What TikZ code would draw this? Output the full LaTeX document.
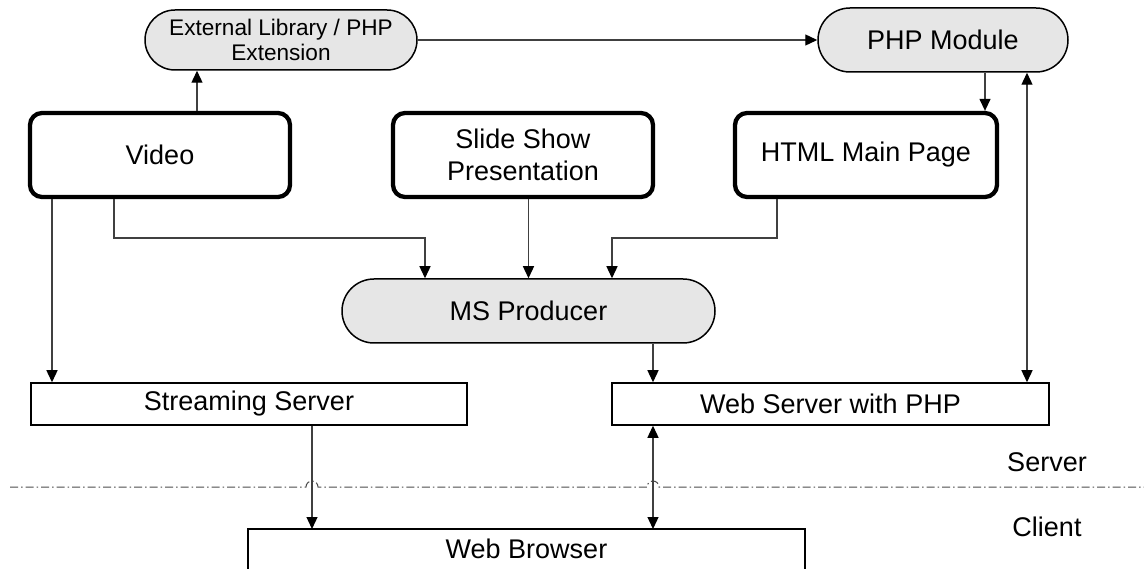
\documentclass[tikz,border=0pt]{standalone}
\usepackage{fontspec}
\setmainfont{Liberation Sans}
\usetikzlibrary{arrows.meta}
\definecolor{pillgray}{HTML}{E6E6E6}
\definecolor{conncol}{HTML}{404040}
\begin{document}
\begin{tikzpicture}[x=1pt,y=-1pt,
  base/.style={inner sep=0pt, align=center, font=\fontsize{27}{32.5}\selectfont},
  thickbox/.style={base, draw, line width=4.3pt, rounded corners=12pt, minimum height=84pt},
  pill/.style={base, draw, line width=1.5pt, fill=pillgray},
  plainbox/.style={base, draw, line width=1.5pt, minimum height=42pt},
  tip/.style={},
  conn/.style={draw=conncol, line width=1.3pt, -{Triangle[length=12pt,width=11pt,color=black]}},
  conn2/.style={draw=conncol, line width=1.3pt, {Triangle[length=12pt,width=11pt,color=black]}-{Triangle[length=12pt,width=11pt,color=black]}},
  sepline/.style={draw=black!70, line width=1pt, dash pattern=on 8pt off 3pt on 1.5pt off 3pt},
]
\useasboundingbox (0,0) rectangle (1144,569);

% nodes
\node[pill, minimum width=272pt, minimum height=60pt, rounded corners=30pt,
      font=\fontsize{22.6}{25}\selectfont] (ext) at (281,40) {External Library / PHP\\Extension};
\node[pill, minimum width=250pt, minimum height=64pt, rounded corners=32pt] (php) at (943,40) {PHP Module};
\node[thickbox, minimum width=260pt] (video) at (160,155) {Video};
\node[thickbox, minimum width=260pt] (slide) at (523,155) {Slide Show\\Presentation};
\node[thickbox, minimum width=262pt] (html) at (866,155) {HTML Main Page};
\node[pill, minimum width=373pt, minimum height=64pt, rounded corners=32pt] (ms) at (528.5,311) {MS Producer};
\node[plainbox, minimum width=436pt] (stream) at (249,404) {Streaming Server};
\node[plainbox, minimum width=437pt] (web) at (830.5,404) {Web Server with PHP};
\node[base, minimum width=557pt, minimum height=40pt, anchor=north] (wb) at (526.5,529) {Web Browser};
\draw[line width=1.5pt] (wb.south west) |- (wb.north east) -- (wb.south east);

\node[base] (srv) at (1047,462) {Server};
\node[base] (cli) at (1047,527) {Client};

% separator with hops
\draw[sepline] (10,487) -- (306,487) arc[start angle=180,end angle=0,radius=6pt]
  -- (647,487) arc[start angle=180,end angle=0,radius=6pt] -- (1144,487);

% helper coordinates
\coordinate (v1) at ([xshift=37pt]video.north);
\coordinate (v2) at ([xshift=-108pt]video.south);
\coordinate (v3) at ([xshift=-46pt]video.south);
\coordinate (j1) at (425,238);
\coordinate (j2) at (612,238);
\coordinate (h1) at ([xshift=-89pt]html.south);
\coordinate (p1) at ([xshift=42pt]php.south);
\coordinate (p2) at ([xshift=84pt]php.south);
\coordinate (m1) at ([xshift=124.5pt]ms.south);
\coordinate (s1) at ([xshift=63pt]stream.south);
\coordinate (w1) at ([xshift=-177.5pt]web.south);

% connectors
\draw[conn] (v1) -- (v1 |- ext.south);
\draw[conn] (ext.east) -- (php.west);
\draw[conn] (p1) -- (p1 |- html.north);
\draw[conn2] (p2 |- web.north) -- (p2);
\draw[conn] (v2) -- (v2 |- stream.north);
\draw[conn] (v3) |- (j1) -- (j1 |- ms.north);
\draw[conn] (ms.north |- slide.south) -- (ms.north);
\draw[conn] (h1) |- (j2) -- (j2 |- ms.north);
\draw[conn] (m1) -- (m1 |- web.north);
\draw[conn] (s1) -- (s1 |- wb.north);
\draw[conn2] (w1) -- (w1 |- wb.north);
\end{tikzpicture}
\end{document}
